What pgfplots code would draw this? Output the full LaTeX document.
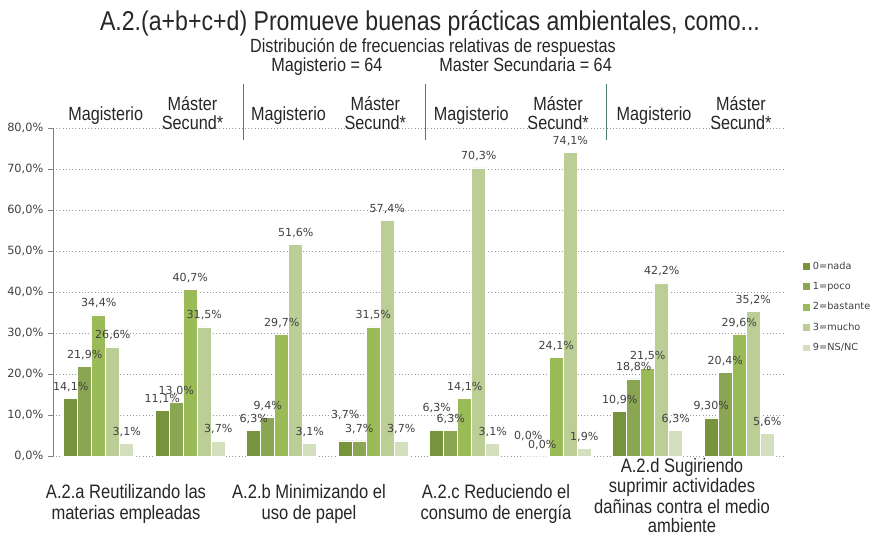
\documentclass[border=0pt]{standalone}
\usepackage{fontspec}
\setmainfont{DejaVu Sans}
\newfontfamily\cond[FakeStretch=0.85]{Liberation Sans}
\usepackage{pgfplots}
\pgfplotsset{compat=1.18}
\usepackage{pgfplotstable}

\definecolor{cnada}{RGB}{119,147,60}
\definecolor{cpoco}{RGB}{139,166,82}
\definecolor{cbast}{RGB}{155,187,89}
\definecolor{cmucho}{RGB}{186,206,149}
\definecolor{cnsnc}{RGB}{211,223,189}
\definecolor{txt}{RGB}{64,64,64}
\definecolor{divc}{RGB}{80,125,120}

% x: 0 Mag a, 1 Mas a, 2 Mag b, 3 Mas b, 4 Mag c, 5 Mas c, 6 Mag d, 7 Mas d
% lab = label text, dy = label baseline above bar top (pt)
\pgfplotstableread{
x y lab dy
0 14.1 14,1 6
1 11.1 11,1 6
2 6.3 6,3 6
3 3.7 3,7 16.5
4 6.3 6,3 14.25
5 0.0 0,0 12.75
6 10.9 10,9 6
7 9.3 9,30 6
}\nada
\pgfplotstableread{
x y lab dy
0 21.9 21,9 6
1 13.0 13,0 6
2 9.4 9,4 6
3 3.7 3,7 6
4 6.3 6,3 6
5 0.0 0,0 6
6 18.8 18,8 6
7 20.4 20,4 6
}\poco
\pgfplotstableread{
x y lab dy
0 34.4 34,4 6
1 40.7 40,7 6
2 29.7 29,7 6
3 31.5 31,5 6
4 14.1 14,1 6
5 24.1 24,1 6
6 21.5 21,5 6
7 29.6 29,6 6
}\bastante
\pgfplotstableread{
x y lab dy
0 26.6 26,6 6
1 31.5 31,5 6
2 51.6 51,6 6
3 57.4 57,4 6
4 70.3 70,3 6
5 74.1 74,1 6
6 42.2 42,2 6
7 35.2 35,2 6
}\mucho
\pgfplotstableread{
x y lab dy
0 3.1 3,1 6
1 3.7 3,7 6
2 3.1 3,1 6
3 3.7 3,7 6
4 3.1 3,1 6
5 1.9 1,9 6
6 6.3 6,3 6
7 5.6 5,6 6
}\nsnc

% pixel position of the reference (870x537) -> pt
\newcommand\pp[2]{({(#1)*0.75pt},{(537-(#2))*0.75pt})}

\pgfplotsset{sq/.style={legend image code/.code={\fill[##1,draw=none] (0pt,-2.6pt) rectangle (5.25pt,2.6pt);}}}

\begin{document}
\begin{tikzpicture}
\useasboundingbox (0,0) rectangle (652.5pt,402.75pt);
\begin{axis}[
    at={(39.75pt,60.75pt)}, anchor=south west,
    scale only axis, width=549pt, height=246pt,
    xmin=-0.5, xmax=7.5, ymin=0, ymax=80,
    ybar=0pt, bar width=10.5pt,
    xtick=\empty, ytick={0,10,...,80},
    axis y line*=left, axis x line*=bottom,
    y axis line style={draw=gray},
    x axis line style={draw=gray!80, dotted},
    ymajorgrids, grid style={gray!80, dotted},
    tick align=outside, major tick length=3.75pt,
    ytick style={gray},
    yticklabel={\pgfmathprintnumber[fixed,fixed zerofill,precision=1,use comma,assume math mode=true]{\tick}\%},
    yticklabel style={font=\fontsize{8.5}{10}\selectfont, text=txt},
    clip=false,
    point meta=explicit symbolic,
    nodes near coords={\pgfplotspointmeta\%},
    visualization depends on={\thisrow{dy}\as\labdy},
    every node near coord/.append style={anchor=base, yshift=\labdy pt, inner sep=0pt,
        font=\fontsize{8.3}{9}\selectfont, text=txt},
    legend style={at={(1.0246,0.601)}, anchor=north west, draw=none, fill=none,
        font=\fontsize{7.3}{8}\selectfont, text=txt, row sep=4.3pt, inner sep=0pt,
        /tikz/every even column/.append style={column sep=1pt}},
    legend cell align=left,
]
\addplot[fill=cnada, draw=white, line width=0.4pt, sq] table[x=x,y=y,meta=lab] {\nada};
\addplot[fill=cpoco, draw=white, line width=0.4pt, sq] table[x=x,y=y,meta=lab] {\poco};
\addplot[fill=cbast, draw=white, line width=0.4pt, sq] table[x=x,y=y,meta=lab] {\bastante};
\addplot[fill=cmucho, draw=white, line width=0.4pt, sq] table[x=x,y=y,meta=lab] {\mucho};
\addplot[fill=cnsnc, draw=white, line width=0.4pt, sq] table[x=x,y=y,meta=lab] {\nsnc};
\legend{0=nada,1=poco,2=bastante,3=mucho,9=NS/NC}
\end{axis}

% titles
\node[anchor=base, text=black!85, font=\cond\fontsize{20.4}{24}\selectfont] at \pp{430}{31}
  {A.2.(a+b+c+d) Promueve buenas prácticas ambientales, como...};
\node[anchor=base, text=black!85, font=\cond\fontsize{14.3}{17}\selectfont] at \pp{433}{53}
  {Distribución de frecuencias relativas de respuestas};
\node[anchor=base west, inner sep=0pt, text=black!85, font=\cond\fontsize{14.3}{17}\selectfont] at \pp{271}{72}
  {Magisterio = 64};
\node[anchor=base west, inner sep=0pt, text=black!85, font=\cond\fontsize{14.3}{17}\selectfont] at \pp{439}{72}
  {Master Secundaria = 64};

% group headers
\foreach \k in {0,1,2,3}{
  \node[anchor=base, inner sep=0pt, text=black!85, font=\cond\fontsize{14.3}{17}\selectfont]
    at \pp{105.7+182.8*\k}{120} {Magisterio};
  \node[anchor=base, inner sep=0pt, text=black!85, font=\cond\fontsize{14.3}{17}\selectfont]
    at \pp{192.5+182.8*\k}{110} {Máster};
  \node[anchor=base, inner sep=0pt, text=black!85, font=\cond\fontsize{14.3}{17}\selectfont]
    at \pp{192.5+182.8*\k}{129} {Secund*};
}
\foreach \xx in {243,425,606}{
  \draw[divc, line width=0.75pt] \pp{\xx}{84} -- \pp{\xx}{140};
}

% category labels
\tikzset{cl/.style={anchor=base, inner sep=0pt, text=black!85, font=\cond\fontsize{14.6}{17}\selectfont}}
\node[cl] at \pp{126}{498} {A.2.a Reutilizando las};
\node[cl] at \pp{126}{519} {materias empleadas};
\node[cl] at \pp{309}{498} {A.2.b Minimizando el};
\node[cl] at \pp{309}{519} {uso de papel};
\node[cl] at \pp{496}{498} {A.2.c Reduciendo el};
\node[cl] at \pp{496}{519} {consumo de energía};
\node[cl] at \pp{682}{472} {A.2.d Sugiriendo};
\node[cl] at \pp{682}{492.5} {suprimir actividades};
\node[cl] at \pp{682}{513} {dañinas contra el medio};
\node[cl] at \pp{682}{532.5} {ambiente};
\end{tikzpicture}
\end{document}
